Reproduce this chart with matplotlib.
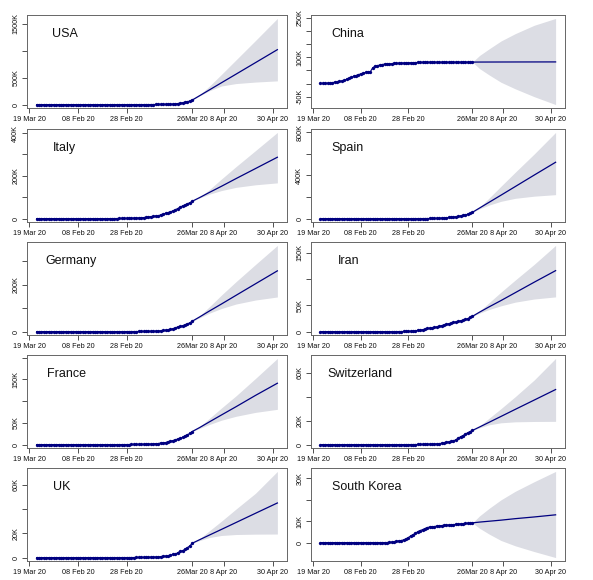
import matplotlib
matplotlib.use('Agg')
import matplotlib.pyplot as plt
import numpy as np

plt.rcParams['font.family'] = ['Liberation Sans', 'DejaVu Sans']

# days counted from 19 Jan 2020; observed 22 Jan .. 26 Mar, forecast to 30 Apr
obs_day = np.arange(3, 68)
fc_day = [67, 70, 74, 79, 85, 93, 102]

date_ticks = [0, 20, 40, 67, 80, 100]
date_labels = ['19 Mar 20', '08 Feb 20', '28 Feb 20', '26Mar 20', '8 Apr 20', '30 Apr 20']

countries = ['USA', 'China', 'Italy', 'Spain', 'Germany', 'Iran',
             'France', 'Switzerland', 'UK', 'South Korea']

# cumulative confirmed cases
usa_cases = [1, 1, 2, 2, 5, 5, 5, 5, 5, 7,
             8, 8, 11, 11, 11, 11, 11, 11, 11, 11,
             12, 12, 13, 13, 13, 13, 13, 13, 13, 13,
             15, 15, 15, 51, 51, 57, 58, 60, 68,
             74, 98, 118, 149, 217, 262, 402, 518, 583, 959,
             1281, 1663, 2179, 2727, 3499, 4632, 6421, 7786, 13680, 19101,
             25493, 33276, 43847, 53740, 65778, 83836]
china_cases = [548, 643, 920, 1406, 2075, 2877, 5509, 6087, 8141, 9802,
               11891, 16630, 19716, 23707, 27440, 30587, 34110, 36814, 39829, 42354,
               44386, 44759, 59895, 66358, 68413, 70513, 72434, 74211, 74619, 75077,
               75550, 77001, 77022, 77241, 77754, 78166, 78600, 78928, 79356,
               79932, 80136, 80261, 80386, 80537, 80690, 80770, 80823, 80860, 80887,
               80921, 80932, 80945, 80977, 81003, 81033, 81058, 81102, 81156, 81250,
               81305, 81435, 81498, 81591, 81661, 81782]
italy_cases = [0, 0, 0, 0, 0, 0, 0, 0, 0, 2,
               2, 2, 2, 2, 2, 2, 3, 3, 3, 3,
               3, 3, 3, 3, 3, 3, 3, 3, 3, 3,
               20, 62, 155, 229, 322, 453, 655, 888, 1128,
               1694, 2036, 2502, 3089, 3858, 4636, 5883, 7375, 9172, 10149,
               12462, 12462, 17660, 21157, 24747, 27980, 31506, 35713, 41035, 47021,
               53578, 59138, 63927, 69176, 74386, 80589]
spain_cases = [0, 0, 0, 0, 0, 0, 0, 0, 0, 0,
               1, 1, 1, 1, 1, 1, 1, 1, 2, 2,
               2, 2, 2, 2, 2, 2, 2, 2, 2, 2,
               2, 2, 2, 2, 6, 13, 15, 32, 45,
               84, 120, 165, 222, 259, 400, 500, 673, 1073, 1695,
               2277, 2277, 5232, 6391, 7798, 9942, 11748, 13910, 17963, 20410,
               25374, 28768, 35136, 39885, 49515, 57786]
germany_cases = [0, 0, 0, 0, 0, 1, 4, 4, 4, 5,
                 8, 10, 12, 12, 12, 12, 13, 13, 14, 14,
                 16, 16, 16, 16, 16, 16, 16, 16, 16, 16,
                 16, 16, 16, 16, 17, 27, 46, 48, 79,
                 130, 159, 196, 262, 482, 670, 799, 1040, 1176, 1457,
                 1908, 2078, 3675, 4585, 5795, 7272, 9257, 12327, 15320, 19848,
                 22213, 24873, 29056, 32986, 37323, 43938]
iran_cases = [0, 0, 0, 0, 0, 0, 0, 0, 0, 0,
              0, 0, 0, 0, 0, 0, 0, 0, 0, 0,
              0, 0, 0, 0, 0, 0, 0, 0, 2, 5,
              18, 28, 43, 61, 95, 139, 245, 388, 593,
              978, 1501, 2336, 2922, 3513, 4747, 5823, 6566, 7161, 8042,
              9000, 10075, 11364, 12729, 13938, 14991, 16169, 17361, 18407, 19644,
              20610, 21638, 23049, 24811, 27017, 29406]
france_cases = [0, 0, 2, 3, 3, 3, 4, 5, 5, 5,
                6, 6, 6, 6, 6, 6, 6, 11, 11, 11,
                11, 11, 11, 11, 12, 12, 12, 12, 12, 12,
                12, 12, 12, 12, 14, 18, 38, 57, 100,
                130, 191, 204, 288, 380, 656, 959, 1136, 1219, 1794,
                2293, 2293, 3681, 4496, 4532, 6683, 7715, 9124, 10970, 12758,
                14463, 16243, 20123, 22622, 25600, 29551]
swiss_cases = [0, 0, 0, 0, 0, 0, 0, 0, 0, 0,
               0, 0, 0, 0, 0, 0, 0, 0, 0, 0,
               0, 0, 0, 0, 0, 0, 0, 0, 0, 0,
               0, 0, 0, 0, 1, 1, 8, 8, 18,
               27, 42, 56, 90, 114, 214, 268, 337, 374, 491,
               652, 652, 1139, 1359, 2200, 2200, 2700, 3028, 4075, 5294,
               6575, 7474, 8795, 9877, 10897, 11811]
uk_cases = [0, 0, 0, 0, 0, 0, 0, 0, 0, 2,
            2, 2, 2, 2, 2, 3, 3, 3, 3, 8,
            8, 9, 9, 9, 9, 9, 9, 9, 9, 9,
            9, 9, 9, 13, 13, 13, 15, 20, 23,
            36, 40, 51, 86, 116, 164, 207, 274, 322, 384,
            459, 459, 802, 1144, 1145, 1551, 1960, 2642, 2716, 4014,
            5067, 5745, 6726, 8164, 9640, 11812]
korea_cases = [1, 1, 2, 2, 3, 4, 4, 4, 4, 11,
               12, 15, 15, 16, 19, 23, 24, 24, 25, 27,
               28, 28, 28, 28, 28, 29, 30, 31, 31, 104,
               204, 433, 602, 833, 977, 1261, 1766, 2337, 3150,
               3736, 4335, 5186, 5621, 6088, 6593, 7041, 7314, 7478, 7513,
               7755, 7869, 7979, 8086, 8162, 8236, 8320, 8413, 8565, 8652,
               8799, 8897, 8961, 9037, 9137, 9241]

# forecast (thousands): mean, upper and lower bound
usa_fc = [84, 164, 271, 405, 565, 779, 1020]
usa_hi = [84, 180, 340, 560, 830, 1190, 1600]
usa_lo = [84, 160, 255, 345, 390, 418, 440]
china_fc = [81.8, 81.9, 82.0, 82.1, 82.2, 82.3, 82.4]
china_hi = [81.8, 107, 132, 162, 190, 222, 248]
china_lo = [81.8, 57, 33, 5, -20, -50, -80]
italy_fc = [81, 98, 122, 151, 187, 234, 287]
italy_hi = [81, 100, 135, 185, 243, 318, 403]
italy_lo = [81, 96, 114, 131, 146, 158, 167]
spain_fc = [58, 98, 151, 217, 297, 404, 523]
spain_hi = [58, 105, 190, 300, 430, 600, 800]
spain_lo = [58, 90, 125, 160, 188, 208, 222]
germany_fc = [44, 62, 87, 117, 154, 203, 258]
germany_hi = [44, 66, 105, 155, 212, 285, 366]
germany_lo = [44, 58, 78, 98, 117, 134, 147]
iran_fc = [29, 37, 47, 59, 74, 94, 116]
iran_hi = [29, 39, 55, 75, 98, 128, 164]
iran_lo = [29, 35, 42, 49, 56, 62, 66]
france_fc = [30, 39, 52, 68, 87, 113, 141]
france_hi = [30, 41, 60, 84, 112, 152, 198]
france_lo = [30, 37, 46, 56, 65, 74, 81]
swiss_fc = [11.8, 14.7, 18.6, 23.5, 29.4, 37.2, 46]
swiss_hi = [11.8, 15.5, 22, 30, 40, 54, 72]
swiss_lo = [11.8, 14, 16.5, 18.2, 19, 19.3, 19.4]
uk_fc = [11.8, 14.7, 18.5, 23.2, 28.9, 36.5, 45]
uk_hi = [11.8, 15.5, 22, 30, 40, 53, 71]
uk_lo = [11.8, 14, 16.5, 18.2, 19, 19.3, 19.4]
korea_fc = [9.24, 9.6, 10.0, 10.5, 11.2, 12.0, 13.0]
korea_hi = [9.24, 12.5, 16, 20, 24, 28.5, 33.3]
korea_lo = [9.24, 6.7, 4.0, 1.0, -1.5, -4.2, -7]

# y ticks (thousands) and their labels
usa_yt, usa_yl = [0, 500, 1000, 1500], ['0', '500K', '', '1500K']
china_yt, china_yl = [-50, 0, 50, 100, 150, 200, 250], ['-50K', '', '', '100K', '', '', '250K']
italy_yt, italy_yl = [0, 100, 200, 300, 400], ['0', '', '200K', '', '400K']
spain_yt, spain_yl = [0, 200, 400, 600, 800], ['0', '', '400K', '', '800K']
germany_yt, germany_yl = [0, 100, 200, 300], ['0', '', '200K', '']
iran_yt, iran_yl = [0, 50, 100, 150], ['0', '50K', '', '150K']
france_yt, france_yl = [0, 50, 100, 150, 200], ['0', '50K', '', '150K', '']
swiss_yt, swiss_yl = [0, 20, 40, 60], ['0', '20K', '', '60K']
uk_yt, uk_yl = [0, 20, 40, 60], ['0', '20K', '', '60K']
korea_yt, korea_yl = [0, 10, 20, 30], ['0', '10K', '', '30K']

panels = [
    (usa_cases, usa_fc, usa_hi, usa_lo, usa_yt, usa_yl),
    (china_cases, china_fc, china_hi, china_lo, china_yt, china_yl),
    (italy_cases, italy_fc, italy_hi, italy_lo, italy_yt, italy_yl),
    (spain_cases, spain_fc, spain_hi, spain_lo, spain_yt, spain_yl),
    (germany_cases, germany_fc, germany_hi, germany_lo, germany_yt, germany_yl),
    (iran_cases, iran_fc, iran_hi, iran_lo, iran_yt, iran_yl),
    (france_cases, france_fc, france_hi, france_lo, france_yt, france_yl),
    (swiss_cases, swiss_fc, swiss_hi, swiss_lo, swiss_yt, swiss_yl),
    (uk_cases, uk_fc, uk_hi, uk_lo, uk_yt, uk_yl),
    (korea_cases, korea_fc, korea_hi, korea_lo, korea_yt, korea_yl),
]

W, H = 593, 580
fig = plt.figure(figsize=(W / 100, H / 100), dpi=100)
fig.patch.set_facecolor('white')

col_left = [27, 311]
col_width = [260, 254]
row_top = [15, 129, 242, 355, 468]
box_h = 93
name_x = [0.096, 0.081, 0.1, 0.08, 0.069, 0.106, 0.077, 0.063, 0.1, 0.083]

navy = '#000080'

for i, (cases, fc, hi, lo, yt, yl) in enumerate(panels):
    r, c = i // 2, i % 2
    ax = fig.add_axes([col_left[c] / W, 1 - (row_top[r] + box_h) / H,
                       col_width[c] / W, box_h / H])

    ax.fill_between(fc_day, lo, hi, color='#DCDDE4', lw=0)
    ax.plot(fc_day, fc, color=navy, lw=0.9)
    ax.plot(obs_day, np.array(cases) / 1000, color=navy, lw=0.8,
            marker='o', ms=2.4, mew=0)

    ax.margins(x=0.04, y=0.04)
    ax.set_xticks(date_ticks, date_labels)
    ax.set_yticks(yt, yl)
    ax.tick_params(axis='both', labelsize=5.2, length=3.5, width=0.6,
                   pad=2, color='#333333', labelcolor='#111111')
    for t in ax.get_yticklabels():
        t.set_rotation(90)
        t.set_va('center')
        t.set_ha('right')
    for s in ax.spines.values():
        s.set_color('#666666')
        s.set_linewidth(0.7)

    ax.text(name_x[i], 0.80, countries[i], transform=ax.transAxes,
            fontsize=9, va='center', ha='left', color='#111111')

fig.savefig('out.png', dpi=100)
